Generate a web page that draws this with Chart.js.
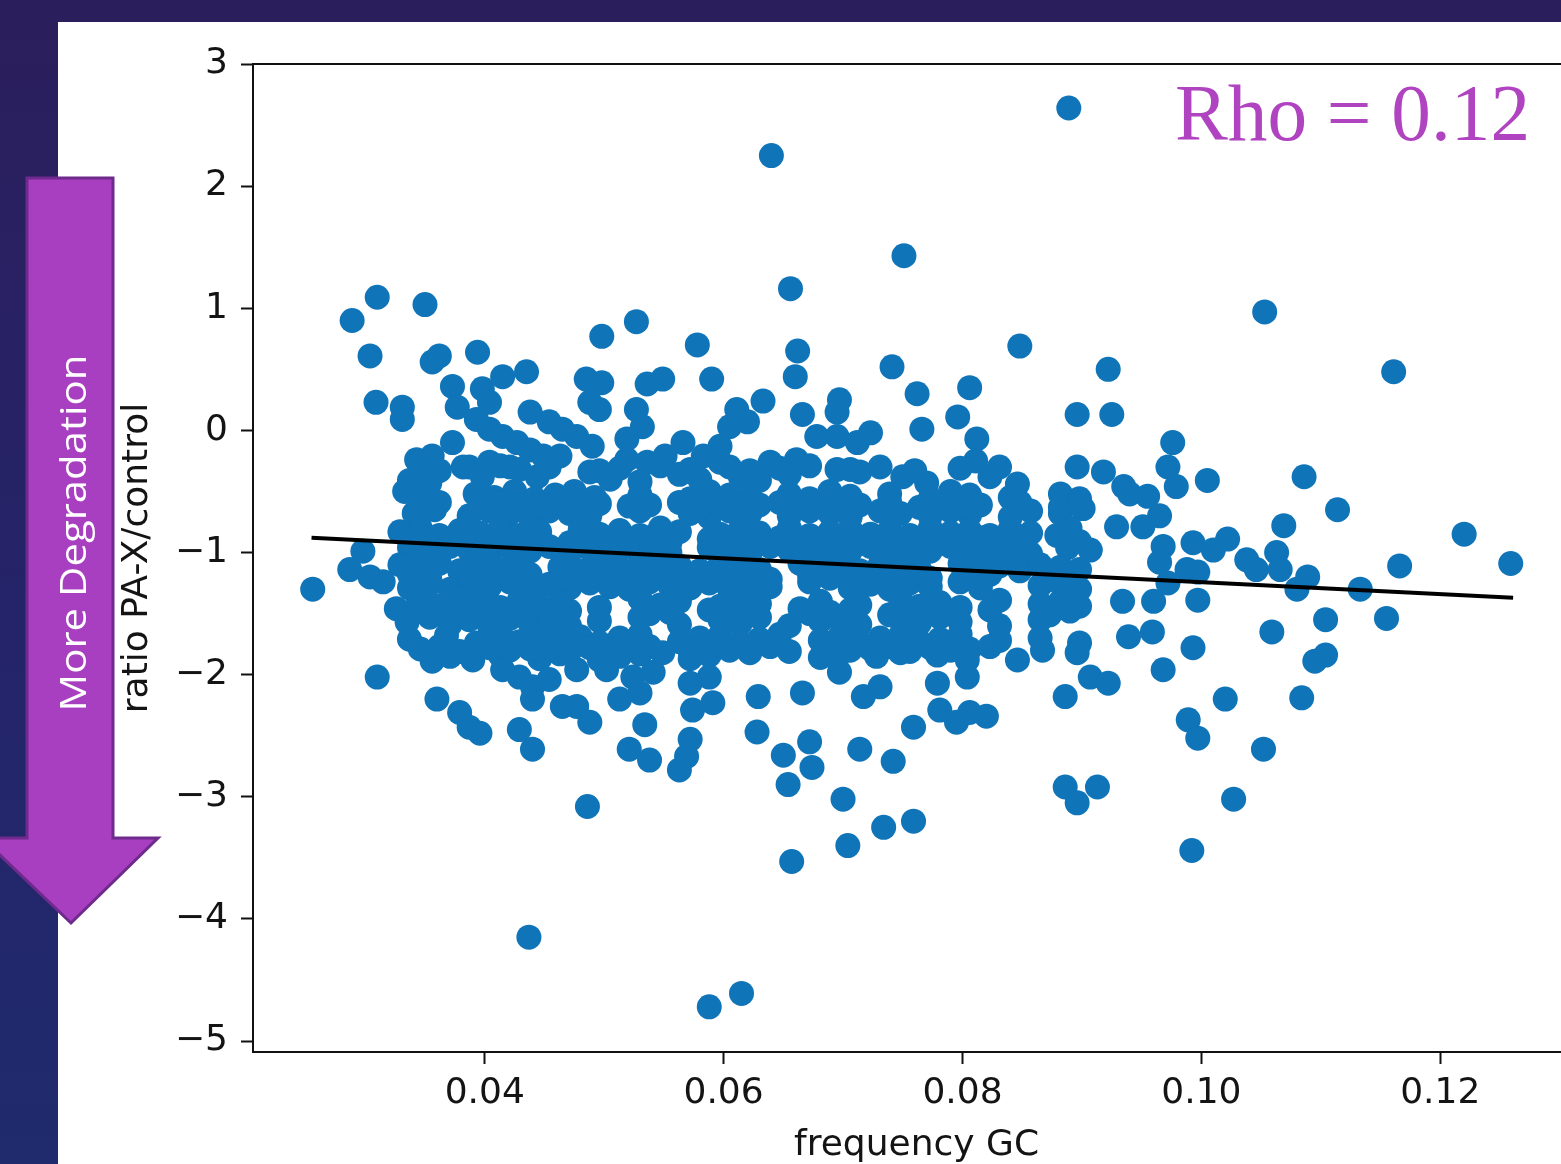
<!DOCTYPE html>
<html>
<head>
<meta charset="utf-8">
<script src="https://cdn.jsdelivr.net/npm/chart.js@4.4.0/dist/chart.umd.min.js"></script>
<style>
html, body { margin:0; padding:0; overflow:hidden; width:1561px; height:1164px;
  background: linear-gradient(180deg, #2b1e5c 0%, #25246a 55%, #1f2b6c 100%); }
#panel { position:absolute; left:58px; top:22px; width:1503px; height:1142px; background:#fff; }
#chart { position:absolute; left:0; top:0; }
#overlay { position:absolute; left:0; top:0; }
</style>
</head>
<body>
<div id="panel"></div>
<canvas id="chart" width="1600" height="1164"></canvas>
<svg id="overlay" width="1561" height="1164">
  <polygon points="27,178 113,178 113,838 158,838 71,923 -18,838 27,838" fill="#a83fc0" stroke="#6e2a8c" stroke-width="3"/>
  <text x="72" y="533" transform="rotate(-90 72 533)" text-anchor="middle" dominant-baseline="central"
        fill="#ffffff" font-family="Open Sans" font-size="36" textLength="357" lengthAdjust="spacingAndGlyphs">More Degradation</text>
  <text x="1175" y="140" fill="#b044c0" font-family="Liberation Serif" font-size="80"
        textLength="355" lengthAdjust="spacingAndGlyphs">Rho = 0.12</text>
</svg>
<script>
// points above the main cloud
var topGC = [
  0.0289,0.0310,0.0350,0.0304,0.0309,0.0331,0.0331,0.0356,0.0362,0.0394,
  0.0373,0.0377,0.0398,0.0415,0.0435,0.0404,0.0393,0.0438,0.0454,0.0465,
  0.0498,0.0527,0.0578,0.0590,0.0485,0.0498,0.0536,0.0549,0.0488,0.0496,
  0.0527,0.0532,0.0611,0.0605,0.0620,0.0633,0.0662,0.0660,0.0666,0.0697,
  0.0695,0.0741,0.0762,0.0806,0.0796,0.0766,0.0848,0.0922,0.0896,0.0925,
  0.0976,0.1053,0.1161,0.0889,0.0640,0.0751,0.0656
]
var topRatio = [
  0.90,1.09,1.03,0.61,0.23,0.19,0.09,0.56,0.61,0.64,
  0.36,0.19,0.34,0.44,0.48,0.23,0.09,0.15,0.07,0.01,
  0.77,0.89,0.70,0.42,0.42,0.39,0.38,0.42,0.23,0.17,
  0.17,0.03,0.17,0.03,0.07,0.24,0.65,0.44,0.13,0.25,
  0.15,0.52,0.30,0.35,0.11,0.01,0.69,0.50,0.13,0.13,
  -0.10,0.97,0.48,2.64,2.25,1.43,1.16
]

// main cloud, read band by band from top to bottom
var coreGC = [
  0.0373,0.0404,0.0415,0.0427,0.0438,0.0477,0.0490,0.0519,0.0566,0.0597,0.0678,0.0695,0.0712,0.0723,0.0812,
  0.0343,0.0356,0.0387,0.0404,0.0449,0.0463,0.0519,0.0536,0.0551,0.0583,0.0597,0.0639,0.0661,0.0811,
  0.0337,0.0354,0.0382,0.0398,0.0421,0.0444,0.0488,0.0505,0.0530,0.0563,0.0580,0.0614,0.0630,0.0655,0.0695,0.0714,0.0750,0.0770,0.0823,0.0846,0.0896,0.0918,0.0935,
  0.0333,0.0350,0.0392,0.0408,0.0425,0.0442,0.0459,0.0475,0.0492,0.0530,0.0572,0.0588,0.0605,0.0622,0.0655,0.0672,0.0689,0.0706,0.0739,0.0773,0.0790,0.0806,0.0840,0.0882,0.0898,0.0940,0.0955,
  0.0341,0.0358,0.0387,0.0404,0.0421,0.0438,0.0454,0.0471,0.0488,0.0530,0.0572,0.0588,0.0605,0.0622,0.0655,0.0672,0.0689,0.0706,0.0731,0.0748,0.0773,0.0790,0.0806,0.0840,0.0857,0.0882,0.0901,0.0929,0.0965,
  0.0329,0.0346,0.0362,0.0379,0.0396,0.0413,0.0429,0.0446,0.0480,0.0496,0.0513,0.0530,0.0547,0.0563,0.0597,0.0614,0.0630,0.0655,0.0672,0.0689,0.0706,0.0723,0.0739,0.0756,0.0773,0.0790,0.0806,0.0823,0.0840,0.0857,0.0879,0.0890,0.0951,
  0.0298,0.0337,0.0354,0.0371,0.0387,0.0404,0.0421,0.0438,0.0454,0.0471,0.0488,0.0505,0.0521,0.0538,0.0555,0.0588,0.0605,0.0622,0.0639,0.0655,0.0672,0.0689,0.0706,0.0723,0.0739,0.0756,0.0773,0.0790,0.0806,0.0823,0.0840,0.0857,0.0888,0.0907,
  0.0287,0.0329,0.0346,0.0362,0.0379,0.0396,0.0413,0.0429,0.0463,0.0480,0.0496,0.0513,0.0530,0.0547,0.0563,0.0580,0.0597,0.0614,0.0630,0.0664,0.0681,0.0697,0.0714,0.0731,0.0748,0.0764,0.0798,0.0815,0.0831,0.0848,0.0865,0.0882,0.0898,
  0.0315,0.0337,0.0354,0.0371,0.0387,0.0404,0.0421,0.0438,0.0454,0.0471,0.0488,0.0505,0.0521,0.0538,0.0555,0.0572,0.0588,0.0605,0.0622,0.0639,0.0672,0.0706,0.0723,0.0739,0.0756,0.0773,0.0798,0.0815,0.0865,0.0882,0.0898,
  0.0326,0.0346,0.0362,0.0379,0.0396,0.0413,0.0429,0.0446,0.0463,0.0496,0.0530,0.0547,0.0563,0.0597,0.0614,0.0630,0.0664,0.0681,0.0714,0.0748,0.0764,0.0781,0.0798,0.0831,0.0865,0.0882,0.0898,0.0934,0.0960,0.0997,
  0.0335,0.0354,0.0371,0.0387,0.0404,0.0421,0.0438,0.0454,0.0471,0.0496,0.0530,0.0563,0.0597,0.0614,0.0630,0.0655,0.0681,0.0697,0.0714,0.0748,0.0764,0.0781,0.0798,0.0831,0.0865,
  0.0337,0.0368,0.0393,0.0415,0.0429,0.0446,0.0463,0.0480,0.0496,0.0513,0.0530,0.0563,0.0580,0.0597,0.0614,0.0630,0.0647,0.0681,0.0697,0.0714,0.0731,0.0748,0.0764,0.0781,0.0798,0.0831,0.0865,0.0898,0.0939,0.0959,
  0.0356,0.0371,0.0390,0.0413,0.0446,0.0463,0.0496,0.0513,0.0530,0.0549,0.0572,0.0588,0.0622,0.0681,0.0697,0.0728,0.0748,0.0779,0.0804,0.0846,0.0867,0.0896,0.0993
]
var coreRatio = [
  -0.10,0.01,-0.05,-0.10,-0.16,-0.05,-0.13,-0.07,-0.10,-0.13,-0.05,-0.05,-0.10,-0.02,-0.07,
  -0.24,-0.21,-0.30,-0.26,-0.21,-0.21,-0.24,-0.26,-0.21,-0.21,-0.26,-0.26,-0.24,-0.25,
  -0.41,-0.43,-0.30,-0.38,-0.30,-0.38,-0.34,-0.40,-0.42,-0.36,-0.40,-0.38,-0.41,-0.36,-0.32,-0.34,-0.38,-0.43,-0.38,-0.44,-0.30,-0.34,-0.46,
  -0.50,-0.56,-0.52,-0.55,-0.50,-0.56,-0.53,-0.50,-0.55,-0.53,-0.56,-0.50,-0.53,-0.55,-0.52,-0.56,-0.50,-0.54,-0.52,-0.56,-0.50,-0.53,-0.55,-0.52,-0.56,-0.52,-0.54,
  -0.68,-0.65,-0.70,-0.66,-0.68,-0.71,-0.66,-0.68,-0.70,-0.66,-0.68,-0.71,-0.66,-0.68,-0.70,-0.66,-0.68,-0.71,-0.66,-0.68,-0.70,-0.66,-0.69,-0.71,-0.66,-0.68,-0.64,-0.79,-0.70,
  -0.83,-0.80,-0.86,-0.82,-0.84,-0.80,-0.86,-0.83,-0.81,-0.85,-0.82,-0.86,-0.80,-0.83,-0.85,-0.81,-0.84,-0.80,-0.86,-0.83,-0.81,-0.85,-0.82,-0.86,-0.80,-0.84,-0.82,-0.86,-0.81,-0.84,-0.86,-0.80,-0.79,
  -0.99,-0.96,-1.00,-0.95,-0.98,-1.01,-0.96,-0.99,-0.95,-1.00,-0.97,-1.01,-0.95,-0.98,-1.00,-0.96,-0.99,-1.01,-0.95,-0.98,-1.00,-0.96,-0.99,-0.95,-1.01,-0.97,-0.99,-0.95,-1.00,-0.97,-0.99,-1.01,-0.96,-0.98,
  -1.14,-1.10,-1.13,-1.09,-1.15,-1.11,-1.14,-1.09,-1.12,-1.15,-1.10,-1.13,-1.09,-1.14,-1.11,-1.15,-1.10,-1.12,-1.14,-1.09,-1.13,-1.11,-1.15,-1.10,-1.12,-1.14,-1.09,-1.13,-1.11,-1.15,-1.10,-1.12,-1.14,
  -1.24,-1.29,-1.26,-1.30,-1.25,-1.28,-1.24,-1.30,-1.26,-1.29,-1.25,-1.28,-1.30,-1.24,-1.27,-1.29,-1.25,-1.30,-1.26,-1.28,-1.24,-1.29,-1.26,-1.30,-1.25,-1.28,-1.24,-1.29,-1.27,-1.25,-1.30,
  -1.46,-1.40,-1.44,-1.38,-1.42,-1.45,-1.39,-1.43,-1.41,-1.45,-1.38,-1.43,-1.40,-1.44,-1.39,-1.42,-1.46,-1.40,-1.43,-1.38,-1.44,-1.41,-1.45,-1.39,-1.42,-1.40,-1.44,-1.40,-1.40,-1.39,
  -1.57,-1.53,-1.59,-1.55,-1.60,-1.54,-1.58,-1.55,-1.60,-1.56,-1.53,-1.59,-1.55,-1.58,-1.53,-1.60,-1.56,-1.54,-1.59,-1.55,-1.58,-1.53,-1.57,-1.60,-1.55,
  -1.71,-1.68,-1.74,-1.70,-1.73,-1.67,-1.72,-1.69,-1.74,-1.70,-1.67,-1.73,-1.70,-1.68,-1.74,-1.71,-1.67,-1.72,-1.69,-1.74,-1.70,-1.68,-1.73,-1.71,-1.67,-1.72,-1.70,-1.74,-1.69,-1.65,
  -1.89,-1.85,-1.88,-1.84,-1.87,-1.83,-1.88,-1.85,-1.83,-1.82,-1.87,-1.84,-1.82,-1.86,-1.83,-1.85,-1.82,-1.84,-1.88,-1.88,-1.80,-1.82,-1.78
]

// extra points in the solid part of the cloud, between the bands above
var fillGC = [
  0.0346,0.0362,0.0413,0.0429,0.0454,0.0496,0.0513,0.0547,0.0572,0.0605,0.0622,0.0647,0.0672,0.0706,0.0731,0.0760,0.0798,0.0831,
  0.0346,0.0362,0.0396,0.0413,0.0429,0.0446,0.0463,0.0480,0.0496,0.0521,0.0538,0.0563,0.0580,0.0597,0.0614,0.0630,0.0647,0.0664,0.0681,0.0697,0.0714,0.0739,0.0764,0.0781,0.0798,0.0815,0.0848,0.0882,0.0898,
  0.0337,0.0354,0.0371,0.0387,0.0404,0.0421,0.0438,0.0471,0.0488,0.0505,0.0521,0.0538,0.0555,0.0588,0.0605,0.0622,0.0647,0.0664,0.0681,0.0697,0.0714,0.0731,0.0748,0.0764,0.0781,0.0798,0.0815,0.0831,0.0848,0.0898,
  0.0304,0.0337,0.0354,0.0387,0.0404,0.0421,0.0438,0.0471,0.0488,0.0505,0.0521,0.0538,0.0555,0.0572,0.0588,0.0605,0.0622,0.0639,0.0672,0.0689,0.0706,0.0723,0.0739,0.0756,0.0773,0.0806,0.0823,0.0873,0.0890,
  0.0337,0.0354,0.0371,0.0387,0.0404,0.0421,0.0438,0.0454,0.0471,0.0538,0.0555,0.0588,0.0605,0.0622,0.0672,0.0689,0.0706,0.0739,0.0756,0.0773,0.0790,0.0823,0.0873,0.0890,
  0.0346,0.0362,0.0379,0.0404,0.0421,0.0438,0.0454,0.0471,0.0488,0.0505,0.0521,0.0538,0.0572,0.0588,0.0605,0.0622,0.0639,0.0655,0.0689,0.0706,0.0723,0.0739,0.0756,0.0773,0.0790,0.0806,0.0823
]
var fillRatio = [
  -0.31,-0.33,-0.29,-0.32,-0.30,-0.33,-0.31,-0.29,-0.32,-0.30,-0.33,-0.31,-0.29,-0.32,-0.30,-0.33,-0.31,-0.30,
  -0.61,-0.59,-0.63,-0.60,-0.62,-0.61,-0.59,-0.63,-0.60,-0.62,-0.61,-0.59,-0.63,-0.60,-0.62,-0.61,-0.59,-0.63,-0.60,-0.62,-0.61,-0.59,-0.63,-0.60,-0.62,-0.61,-0.59,-0.63,-0.60,
  -0.90,-0.88,-0.92,-0.89,-0.91,-0.90,-0.88,-0.92,-0.89,-0.91,-0.90,-0.88,-0.92,-0.89,-0.91,-0.90,-0.88,-0.92,-0.89,-0.91,-0.90,-0.88,-0.92,-0.89,-0.91,-0.90,-0.88,-0.92,-0.89,-0.91,
  -1.20,-1.18,-1.22,-1.19,-1.21,-1.20,-1.18,-1.22,-1.19,-1.21,-1.20,-1.18,-1.22,-1.19,-1.21,-1.20,-1.18,-1.22,-1.19,-1.21,-1.20,-1.18,-1.22,-1.19,-1.21,-1.20,-1.18,-1.22,-1.19,
  -1.49,-1.47,-1.51,-1.48,-1.50,-1.49,-1.47,-1.51,-1.48,-1.50,-1.49,-1.47,-1.51,-1.48,-1.50,-1.49,-1.47,-1.51,-1.48,-1.50,-1.49,-1.47,-1.51,-1.48,
  -1.79,-1.77,-1.81,-1.78,-1.80,-1.79,-1.77,-1.81,-1.78,-1.80,-1.79,-1.77,-1.81,-1.78,-1.80,-1.79,-1.77,-1.81,-1.78,-1.80,-1.79,-1.77,-1.81,-1.78,-1.80,-1.79,-1.77
]

// points below the main cloud
var lowGC = [
  0.0310,0.0360,0.0379,0.0387,0.0396,0.0415,0.0429,0.0440,0.0454,0.0440,
  0.0429,0.0440,0.0465,0.0477,0.0502,0.0524,0.0541,0.0513,0.0530,0.0572,
  0.0588,0.0477,0.0488,0.0534,0.0521,0.0538,0.0572,0.0569,0.0563,0.0574,
  0.0591,0.0629,0.0628,0.0666,0.0672,0.0674,0.0650,0.0654,0.0486,0.0700,
  0.0697,0.0717,0.0731,0.0779,0.0781,0.0795,0.0806,0.0820,0.0804,0.0759,
  0.0714,0.0742,0.0907,0.0922,0.0886,0.0886,0.0913,0.0896,0.0704,0.0734,
  0.0759,0.0657,0.0437,0.0588,0.0615,0.0992,0.1027,0.1052,0.0989,0.0997,
  0.1020,0.1084,0.0968
]
var lowRatio = [
  -2.02,-2.20,-2.31,-2.43,-2.48,-1.96,-2.02,-2.10,-2.04,-2.20,
  -2.45,-2.61,-2.26,-1.96,-1.96,-2.02,-1.98,-2.20,-2.15,-2.07,
  -2.02,-2.26,-2.39,-2.41,-2.61,-2.70,-2.53,-2.67,-2.78,-2.29,
  -2.23,-2.18,-2.47,-2.15,-2.55,-2.76,-2.66,-2.90,-3.08,-3.02,
  -1.98,-2.18,-2.10,-2.07,-2.29,-2.39,-2.31,-2.34,-2.02,-2.43,
  -2.61,-2.71,-2.02,-2.07,-2.18,-2.92,-2.92,-3.05,-3.40,-3.25,
  -3.20,-3.53,-4.15,-4.72,-4.61,-3.44,-3.02,-2.61,-2.37,-2.52,
  -2.20,-2.19,-1.96
]

// right tail and the lone point at the far left
var edgeGC = [
  0.1059,0.1095,0.1104,0.1104,0.1155,0.1133,0.1166,0.1259,0.1220,0.1114,
  0.1086,0.1069,0.1005,0.0972,0.0979,0.0968,0.0965,0.0993,0.1010,0.1022,
  0.1038,0.1046,0.1063,0.1066,0.1080,0.1089,0.0988,0.0997,0.0972,0.0256
]
var edgeRatio = [
  -1.65,-1.89,-1.84,-1.55,-1.54,-1.30,-1.11,-1.09,-0.85,-0.65,
  -0.38,-0.78,-0.41,-0.30,-0.46,-0.95,-1.08,-0.92,-0.98,-0.89,
  -1.06,-1.14,-1.00,-1.14,-1.30,-1.20,-1.14,-1.16,-1.25,-1.30
]

// fitted line end points
var lineGC = [0.0255, 0.1261]
var lineRatio = [-0.88, -1.37]

var xTicksStep = 0.02
var yTicksStep = 1

function toPoints(xs, ys){
  var pts = []
  for(var i = 0; i < xs.length; i++){
    pts.push({x: xs[i], y: ys[i]})
  }
  return pts
}

var scatterPts = []
  .concat(toPoints(topGC, topRatio))
  .concat(toPoints(coreGC, coreRatio))
  .concat(toPoints(fillGC, fillRatio))
  .concat(toPoints(lowGC, lowRatio))
  .concat(toPoints(edgeGC, edgeRatio))

// caixa completa em volta da area do grafico (como o matplotlib)
var framePlugin = {
  id: 'frame',
  afterDatasetsDraw(chart){
    var ctx = chart.ctx
    var a = chart.chartArea
    ctx.save()
    ctx.strokeStyle = '#111'
    ctx.lineWidth = 2
    ctx.strokeRect(a.left, a.top, a.right - a.left, a.bottom - a.top)
    ctx.restore()
  }
}

var tickFont = {family: 'DejaVu Sans', size: 36}
var textColor = '#141414'

new Chart('chart', {
  type: 'scatter',
  data: {
    datasets: [{
      type: 'line',
      data: toPoints(lineGC, lineRatio),
      borderColor: '#000',
      borderWidth: 4,
      pointRadius: 0,
      order: 0
    }, {
      data: scatterPts,
      backgroundColor: '#0f74b8',
      borderWidth: 0,
      pointRadius: 12.5,
      pointHoverRadius: 12.5,
      order: 1
    }]
  },
  options: {
    responsive: false,
    animation: false,
    devicePixelRatio: 1,
    layout: {padding: {top: 64, right: 20, left: 0, bottom: 0}},
    plugins: {legend: {display: false}, tooltip: {enabled: false}},
    scales: {
      x: {
        type: 'linear',
        min: 0.0206,
        max: 0.1317,
        border: {display: false},
        grid: {drawOnChartArea: false, drawTicks: true, tickLength: 12, tickWidth: 2, tickColor: '#111'},
        ticks: {
          stepSize: xTicksStep,
          includeBounds: false,
          autoSkip: false,
          maxRotation: 0,
          padding: 8,
          color: textColor,
          font: tickFont,
          callback: v => v.toFixed(2)
        },
        title: {display: true, text: 'frequency GC', color: textColor,
          font: {family: 'DejaVu Sans', size: 36, lineHeight: 1}, padding: 0},
        afterFit(s){ s.height = 112 }
      },
      y: {
        min: -5.09,
        max: 3,
        border: {display: false},
        grid: {drawOnChartArea: false, drawTicks: true, tickLength: 12, tickWidth: 2, tickColor: '#111'},
        ticks: {
          stepSize: yTicksStep,
          includeBounds: false,
          padding: 13,
          color: textColor,
          font: tickFont,
          callback: v => v < 0 ? '\u2212' + (-v) : String(v)
        },
        title: {display: true, text: 'ratio PA-X/control', color: textColor,
          font: {family: 'DejaVu Sans', size: 36, lineHeight: 1}, padding: {top: 120, bottom: 0}},
        afterFit(s){ s.width = 253 }
      }
    }
  },
  plugins: [framePlugin]
})
</script>
</body>
</html>
